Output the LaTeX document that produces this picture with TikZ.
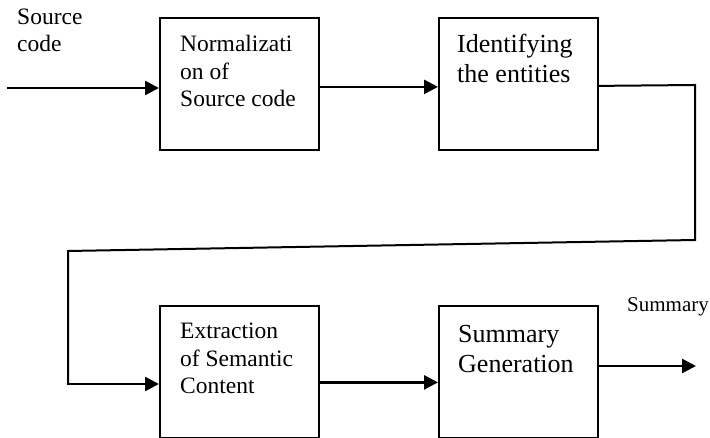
\documentclass[tikz,border=0pt]{standalone}
\usepackage{fontspec}
\setmainfont{Liberation Serif}
\usetikzlibrary{arrows.meta,calc}
\begin{document}
\begin{tikzpicture}[x=1pt,y=-1pt,
  box/.style={draw,line width=1.8pt,minimum width=159pt,minimum height=132pt,inner sep=0pt,anchor=north west},
  txt/.style={anchor=base west,inner sep=0pt,align=left},
  med/.style={font=\fontsize{23.5}{27.5}\selectfont},
  big/.style={font=\fontsize{26}{30}\selectfont},
  flow/.style={line width=2.6pt,-{Triangle[length=14pt,width=14pt]}},
  loopline/.style={line width=2pt,line join=miter}]
\useasboundingbox (0,0) rectangle (710,438);
% boxes
\node[box] (b1) at (159,17) {};
\node[box] (b2) at (438,17) {};
\node[box] (b3) at (159,305) {};
\node[box] (b4) at (438,305) {};
% texts (anchored at the baseline of the last line)
\node[txt,med] (t0) at (17,52) {Source\\code};
\node[txt,med] (t1) at (180,107) {Normalizati\\on of\\Source code};
\node[txt,big] (t2) at (457,83) {Identifying\\the entities};
\node[txt,med] (t3) at (180,394) {Extraction\\of Semantic\\Content};
\node[txt,big] (t4) at (458,372.5) {Summary\\Generation};
\node[txt,font=\fontsize{21}{25}\selectfont] (t5) at (627,312) {Summary};
% connectors
\coordinate (in) at (7,88);
\draw[flow] (in) -- (in -| b1.west);
\draw[flow] ([yshift=-3pt]b1.east) -- ([yshift=-3pt]b1.east -| b2.west);
\coordinate (c1) at (695,85);
\coordinate (c2) at (695,240);
\coordinate (c3) at (68,251);
\coordinate (c4) at (68,384);
\draw[loopline] ([yshift=-2pt]b2.east) -- (c1) -- (c2) -- (c3) -- (c4);
\draw[flow] ([xshift=-1pt]c4) -- (c4 -| b3.west);
\draw[flow] ([yshift=-10.5pt]b3.east) -- ([yshift=-10.5pt]b3.east -| b4.west);
\coordinate (out) at (696,366);
\draw[flow] (b4.east |- out) -- (out);
\end{tikzpicture}
\end{document}
